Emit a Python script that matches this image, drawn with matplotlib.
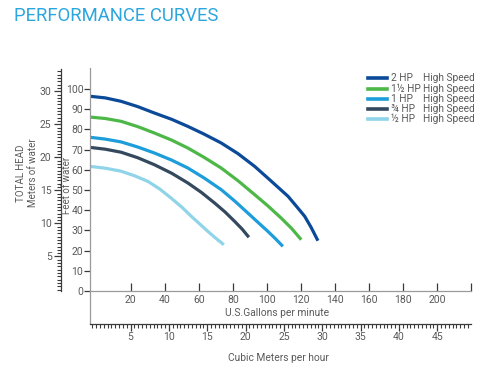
import matplotlib
matplotlib.use("Agg")
import matplotlib.pyplot as plt
from matplotlib.ticker import MultipleLocator, FixedLocator

plt.rcParams['font.family'] = ['Roboto', 'DejaVu Sans']

# pump curves: flow (US gpm) vs head (ft of water)
hp_labels = ["2 HP", "1\u00bd HP", "1 HP", "\u00be HP", "\u00bd HP"]
speed_label = "High Speed"
colors = ["#0b4a98", "#4db848", "#1d9dd9", "#34495e", "#8fd4e8"]

flow_2hp = [-4, 5, 14.3, 24, 33.9, 44, 53.5, 63, 73.1, 83, 92.8, 102, 112.4, 117, 122.2, 126, 130]
head_2hp = [96.4, 95.6, 93.9, 91.3, 88.1, 85.0, 81.5, 77.7, 73.3, 68.0, 61.7, 54.8, 46.9, 42.3, 37.0, 31.5, 24.9]

flow_15hp = [-4, 5, 14.3, 24, 33.9, 44, 53.5, 63, 73.1, 83, 92.8, 100.5, 108.4, 114.5, 120.2]
head_15hp = [86.1, 85.4, 84.0, 81.4, 78.2, 74.7, 70.8, 66.2, 60.9, 54.6, 47.7, 42.2, 36.1, 31.0, 25.4]

flow_1hp = [-4, 5, 14.3, 24, 33.9, 44, 53.5, 63, 73.1, 81, 88.8, 95, 100.6, 105, 109.4]
head_1hp = [76.1, 75.2, 73.8, 71.3, 68.3, 64.8, 60.9, 56.0, 50.2, 44.6, 38.6, 33.8, 29.5, 25.9, 22.1]

flow_34hp = [-4, 5, 14.3, 24, 33.9, 44, 53.5, 61.5, 69.2, 75.3, 81, 85.5, 89.4]
head_34hp = [71.1, 70.2, 68.7, 66.0, 62.5, 58.3, 53.5, 48.8, 43.6, 39.2, 34.5, 30.6, 26.6]

flow_12hp = [-4, 5, 14.3, 22, 30, 37, 43.7, 50, 55.5, 60.5, 65.3, 70, 74.7]
head_12hp = [61.7, 60.8, 59.3, 57.1, 54.3, 50.5, 46.0, 41.5, 37.0, 33.2, 29.5, 26.1, 22.9]

flows = [flow_2hp, flow_15hp, flow_1hp, flow_34hp, flow_12hp]
heads = [head_2hp, head_15hp, head_1hp, head_34hp, head_12hp]

gpm_ticks = [20, 40, 60, 80, 100, 120, 140, 160, 180, 200, 220]
gpm_labels = ["20", "40", "60", "80", "100", "120", "140", "160", "180", "200", ""]
ft_ticks = [0, 10, 20, 30, 40, 50, 60, 70, 80, 90, 100]
m_ticks = [5, 10, 15, 20, 25, 30]
m3h_ticks = [5, 10, 15, 20, 25, 30, 35, 40, 45]

W, H = 500, 378
txt = "#5a5a5a"
spine_c = "#9a9a9a"
tick_c = "#3a3a3a"

def fx(px):
    return px / W

def fy(py):
    return 1 - py / H

fig = plt.figure(figsize=(5, 3.78), dpi=100)

# main chart
ax = fig.add_axes([fx(90), fy(291), fx(471) - fx(90), fy(68) - fy(291)])
for f, h, c in zip(flows, heads, colors):
    ax.plot(f, h, color=c, lw=2.3, solid_capstyle='butt', solid_joinstyle='round')
ax.set_xlim(-4, 220)
ax.set_ylim(0, 110.4)
for s in ["top", "right"]:
    ax.spines[s].set_visible(False)
for s in ["left", "bottom"]:
    ax.spines[s].set_color(spine_c)
    ax.spines[s].set_linewidth(0.9)
ax.set_xticks(gpm_ticks)
ax.set_xticklabels(gpm_labels)
ax.set_yticks(ft_ticks)
ax.tick_params(axis='x', direction='in', length=6, width=0.9, color=tick_c,
               labelsize=7.5, labelcolor=txt, pad=3)
ax.tick_params(axis='y', direction='out', length=4, width=0.9, color=tick_c,
               labelsize=7.5, labelcolor=txt, pad=0.8)

# cubic meters per hour scale
ax2 = fig.add_axes([fx(90), fy(324), fx(471) - fx(90), fy(291) - fy(324)])
ax2.set_xlim(-0.3, 49.4)
ax2.set_ylim(0, 1)
ax2.patch.set_visible(False)
for s in ["top", "right"]:
    ax2.spines[s].set_visible(False)
ax2.spines["left"].set_color(spine_c)
ax2.spines["left"].set_linewidth(0.9)
ax2.spines["bottom"].set_color(tick_c)
ax2.spines["bottom"].set_linewidth(0.9)
ax2.set_yticks([])
ax2.xaxis.set_major_locator(FixedLocator(m3h_ticks))
ax2.xaxis.set_minor_locator(MultipleLocator(0.5))
ax2.tick_params(axis='x', which='major', direction='out', length=5, width=0.9,
                color=tick_c, labelsize=7.5, labelcolor=txt, pad=1)
ax2.tick_params(axis='x', which='minor', direction='out', length=3, width=0.8,
                color=tick_c)

# meters of water ruler
ax3 = fig.add_axes([fx(60.7), fy(291), 0.0001, fy(69) - fy(291)])
ax3.set_ylim(-0.22, 33.36)
ax3.patch.set_visible(False)
for s in ["top", "right", "bottom"]:
    ax3.spines[s].set_visible(False)
ax3.spines["left"].set_color(tick_c)
ax3.spines["left"].set_linewidth(0.9)
ax3.set_xticks([])
ax3.yaxis.set_major_locator(FixedLocator(m_ticks))
ax3.yaxis.set_minor_locator(MultipleLocator(0.5))
ax3.tick_params(axis='y', which='major', direction='out', length=5, width=0.9,
                color=tick_c, labelsize=7.5, labelcolor=txt, pad=1.5)
ax3.tick_params(axis='y', which='minor', direction='out', length=3, width=0.8,
                color=tick_c)

# titles and axis names
fig.text(fx(14), fy(16), "PERFORMANCE CURVES", color="#2ba6de", fontsize=13.3,
         ha='left', va='center')
fig.text(fx(67), fy(185), "Feet of water", rotation=90, fontsize=7, color=txt,
         ha='center', va='center')
fig.text(fx(21), fy(173), "TOTAL HEAD", rotation=90, fontsize=7, color=txt,
         ha='center', va='center')
fig.text(fx(33), fy(173), "Meters of water", rotation=90, fontsize=7, color=txt,
         ha='center', va='center')
fig.text(fx(277), fy(313), "U.S.Gallons per minute", fontsize=7.4, color=txt,
         ha='center', va='center')
fig.text(fx(278), fy(358), "Cubic Meters per hour", fontsize=7.4, color=txt,
         ha='center', va='center')

# legend
for i, (lab, c) in enumerate(zip(hp_labels, colors)):
    y = fy(78.3 + i * 10.2)
    fig.add_artist(plt.Line2D([fx(368), fx(387)], [y, y], color=c, lw=2.6,
                              transform=fig.transFigure))
    fig.text(fx(391), y, lab, fontsize=7.3, color=txt, ha='left', va='center')
    fig.text(fx(423), y, speed_label, fontsize=7.3, color=txt, ha='left', va='center')

fig.savefig("out.png", dpi=100)
